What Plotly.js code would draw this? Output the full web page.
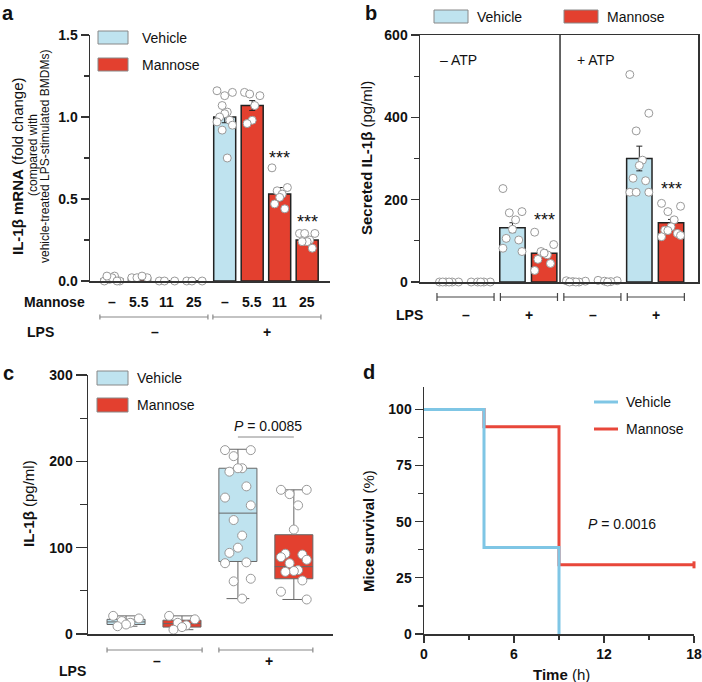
<!DOCTYPE html>
<html>
<head>
<meta charset="utf-8">
<script src="https://cdn.plot.ly/plotly-3.0.1.min.js"></script>
<style>
body { margin: 0; background: #fff; }
#chart { width: 702px; height: 682px; }
</style>
</head>
<body>
<div id="chart"></div>
<script>
// ---- panel a : IL-1b mRNA ----
const aLabels = ['–', '5.5', '11', '25', '–', '5.5', '11', '25'];
const aGroup = ['V', 'M', 'M', 'M', 'V', 'M', 'M', 'M'];
const aMean = [0.01, 0.02, 0, 0, 1.0, 1.07, 0.53, 0.25];
const aErr = [0.005, 0.004, 0, 0, 0.035, 0.03, 0.04, 0.02];
const aDots = [
  [0.0, 0.0, 0.01, 0.03, 0.02, 0.03, 0.0],
  [0.02, 0.02, 0.02, 0.03],
  [0, 0, 0],
  [0, 0, 0],
  [1.16, 1.15, 1.07, 1.03, 1.02, 1.0, 0.98, 0.97, 0.95, 0.92, 0.75, 1.13],
  [1.15, 1.13, 1.14, 1.07, 0.98, 0.96],
  [0.69, 0.57, 0.55, 0.53, 0.51, 0.47, 0.44],
  [0.29, 0.29, 0.29, 0.25, 0.24, 0.24, 0.20]
];
const aStars = [6, 7];
const aStarY = [0.75, 0.36];

// ---- panel b : secreted IL-1b ----
const bLPS = ['–', '+', '–', '+'];
const bGroup = ['V', 'M', 'V', 'M', 'V', 'M', 'V', 'M'];
const bMean = [0, 0, 132, 70, 0, 2, 300, 144];
const bErr = [0, 0, 12, 8, 0, 1, 30, 8];
const bDots = [
  [0, 0, 0, 0, 0, 0],
  [0, 0, 0, 0, 0],
  [227, 171, 168, 151, 128, 106, 102, 82, 74],
  [121, 91, 74, 66, 70, 55, 45, 28],
  [3, 2, 1, 0, 0, 0],
  [4, 3, 2, 1, 0],
  [504, 410, 367, 296, 283, 252, 246, 218, 218, 218],
  [191, 184, 171, 151, 134, 126, 118, 110, 113, 125]
];
const bStars = [3, 7];
const bStarY = [150, 226];

// ---- panel c : IL-1b in serum ----
const cQ1 = [11, 8, 84, 64];
const cMed = [14, 12, 140, 78];
const cQ3 = [17, 16, 192, 115];
const cLo = [9, 5, 41, 40];
const cHi = [21, 21, 214, 167];
const cDots = [
  [21, 18, 15, 13, 11, 9],
  [21, 17, 13, 10, 8, 5],
  [213, 213, 206, 192, 192, 188, 171, 158, 149, 132, 114, 100, 94, 83, 82, 64, 61, 41],
  [167, 167, 162, 149, 121, 93, 92, 89, 86, 82, 74, 73, 72, 62, 49, 40]
];
const cLPS = ['–', '+'];

// ---- panel d : survival ----
const dVehT = [0, 4, 9];
const dVehS = [100, 38.5, 0];
const dManT = [0, 4, 9, 18];
const dManS = [100, 92.3, 30.8, 30.8];

const VEH = '#bfe3ef', MAN = '#e3402f';
const VEHL = '#7fc6e5', MANL = '#e8473a';
const FONT = 'Liberation Sans, Arial, Helvetica, sans-serif';
const W = 702, H = 682;
const px = v => v / W, py = v => 1 - v / H;
const col = g => g === 'V' ? VEH : MAN;

function T(text, x, y, o) {
  return Object.assign({
    text: text, x: px(x), y: py(y), xref: 'paper', yref: 'paper',
    showarrow: false, xanchor: 'center', yanchor: 'middle',
    font: { family: FONT, size: 14, color: '#111' }
  }, o || {});
}
function bold(s) { return { family: FONT, size: s || 14, color: '#111', weight: 700 }; }

// deterministic spread of dots around a category
const pattern = [-1, 1, -0.33, 0.33, 0, -0.66, 0.66];
function dotTrace(groups, pos, w, xa, ya, size) {
  const x = [], y = [];
  groups.forEach((vals, i) => vals.forEach((v, j) => {
    x.push(pos[i] + pattern[j % pattern.length] * w);
    y.push(v);
  }));
  return {
    type: 'scatter', mode: 'markers', x: x, y: y, xaxis: xa, yaxis: ya,
    cliponaxis: false, hoverinfo: 'skip',
    marker: { size: size, color: '#fff', line: { color: '#999', width: 1 } }
  };
}

function bracket(xref, x0, x1, ypx, color, h) {
  const line = { color: color, width: 1.2 };
  return [
    { type: 'line', xref: xref, yref: 'paper', x0: x0, x1: x1, y0: py(ypx), y1: py(ypx), line: line },
    { type: 'line', xref: xref, yref: 'paper', x0: x0, x1: x0, y0: py(ypx - h), y1: py(ypx + h), line: line },
    { type: 'line', xref: xref, yref: 'paper', x0: x1, x1: x1, y0: py(ypx - h), y1: py(ypx + h), line: line }
  ];
}
function legendBox(x0, y0, x1, y1, fill) {
  return { type: 'rect', xref: 'paper', yref: 'paper', x0: px(x0), x1: px(x1), y0: py(y1), y1: py(y0),
    fillcolor: fill, line: { color: '#888', width: 1 } };
}

const aPos = aLabels.map((_, i) => i + (i >= 4 ? 0.1 : 0));
const bPos = bMean.map((_, i) => i);

const traces = [];
traces.push({
  type: 'bar', x: aPos, y: aMean, width: 0.8, xaxis: 'x', yaxis: 'y',
  marker: { color: aGroup.map(col), line: { color: '#222', width: 1.5 } },
  error_y: { type: 'data', array: aErr, color: '#222', thickness: 1, width: 3 }
});
traces.push(dotTrace(aDots, aPos, 0.28, 'x', 'y', 8));

traces.push({
  type: 'bar', x: bPos, y: bMean, width: 0.8, xaxis: 'x2', yaxis: 'y2',
  marker: { color: bGroup.map(col), line: { color: '#222', width: 1.5 } },
  error_y: { type: 'data', array: bErr, color: '#222', thickness: 1, width: 3 }
});
traces.push(dotTrace(bDots, bPos, 0.3, 'x2', 'y2', 8));

[[0, VEH], [1, MAN]].forEach(([k, fill]) => {
  const idx = [k, k + 2];
  traces.push({
    type: 'box', x: idx, xaxis: 'x3', yaxis: 'y3', width: 0.68,
    q1: idx.map(i => cQ1[i]), median: idx.map(i => cMed[i]), q3: idx.map(i => cQ3[i]),
    lowerfence: idx.map(i => cLo[i]), upperfence: idx.map(i => cHi[i]),
    fillcolor: fill, line: { color: '#666', width: 1 }, whiskerwidth: 0.6, boxpoints: false
  });
});
traces.push(dotTrace(cDots, [0, 1, 2, 3], 0.23, 'x3', 'y3', 9));

traces.push({ type: 'scatter', mode: 'lines', x: dManT, y: dManS, xaxis: 'x4', yaxis: 'y4',
  line: { color: MANL, width: 3, shape: 'hv' }, cliponaxis: false });
traces.push({ type: 'scatter', mode: 'markers', x: dManT.slice(-1), y: dManS.slice(-1), xaxis: 'x4', yaxis: 'y4',
  marker: { symbol: 'line-ns', size: 5, line: { color: MANL, width: 3 } }, cliponaxis: false });
traces.push({ type: 'scatter', mode: 'lines', x: dVehT, y: dVehS, xaxis: 'x4', yaxis: 'y4',
  line: { color: VEHL, width: 3, shape: 'hv' }, cliponaxis: false });

const axLine = { showline: true, linecolor: '#333', linewidth: 1.5, showgrid: false, zeroline: false };
const yTicks = { ticks: 'outside', ticklen: 8, tickwidth: 1.2, tickcolor: '#333', tickfont: bold(14) };

const layout = {
  width: W, height: H, margin: { l: 0, r: 0, t: 0, b: 0 },
  paper_bgcolor: '#fff', plot_bgcolor: 'rgba(0,0,0,0)', showlegend: false,
  font: { family: FONT, color: '#111' },
  xaxis: Object.assign({}, axLine, { domain: [px(90), px(330)], range: [-0.8, 7.93], anchor: 'y', showticklabels: false, ticks: '' }),
  yaxis: Object.assign({}, axLine, yTicks, { domain: [py(281), py(35)], range: [0, 1.5], anchor: 'x',
    tick0: 0, dtick: 0.5, tickformat: '.1f',
    minor: { dtick: 0.25, ticks: 'outside', ticklen: 5, tickcolor: '#333', tickwidth: 1.2 } }),
  xaxis2: Object.assign({}, axLine, { domain: [px(420), px(698)], range: [-0.915, 7.85], anchor: 'y2', mirror: true, showticklabels: false, ticks: '' }),
  yaxis2: Object.assign({}, axLine, yTicks, { domain: [py(282), py(35)], range: [0, 600], anchor: 'x2', mirror: true,
    tick0: 0, dtick: 200,
    minor: { dtick: 100, ticks: 'outside', ticklen: 5, tickcolor: '#333', tickwidth: 1.2 } }),
  xaxis3: Object.assign({}, axLine, { domain: [px(88), px(333)], range: [-0.68, 3.7], anchor: 'y3', showticklabels: false, ticks: '' }),
  yaxis3: Object.assign({}, axLine, yTicks, { domain: [py(634), py(375)], range: [0, 300], anchor: 'x3',
    tick0: 0, dtick: 100, ticklen: 11,
    minor: { dtick: 50, ticks: 'outside', ticklen: 7, tickcolor: '#333', tickwidth: 1.2 } }),
  xaxis4: Object.assign({}, axLine, yTicks, { domain: [px(424), px(694)], range: [0, 18], anchor: 'y4',
    tick0: 0, dtick: 6, ticklen: 7,
    minor: { dtick: 3, ticks: 'outside', ticklen: 4, tickcolor: '#333', tickwidth: 1.2 } }),
  yaxis4: Object.assign({}, axLine, yTicks, { domain: [py(634), py(387)], range: [0, 110], anchor: 'x4',
    tickvals: [0, 25, 50, 75, 100],
    minor: { tickvals: [12.5, 37.5, 62.5, 87.5], ticks: 'outside', ticklen: 5, tickcolor: '#333', tickwidth: 1.2 } }),
  shapes: [],
  annotations: []
};

const S = layout.shapes, A = layout.annotations;

// panel letters
A.push(T('<b>a</b>', 8, 0, { yanchor: 'top', font: bold(20) }));
A.push(T('<b>b</b>', 371, 0, { yanchor: 'top', font: bold(20) }));
A.push(T('<b>c</b>', 8, 360, { yanchor: 'top', font: bold(20) }));
A.push(T('<b>d</b>', 369, 359, { yanchor: 'top', font: bold(20) }));

// panel a extras
A.push(T('<b>IL-1β mRNA</b> (fold change)', 17, 166, { textangle: -90, font: { family: FONT, size: 15, color: '#111' } }));
A.push(T('(compared with', 33, 155, { textangle: -90, font: { family: FONT, size: 12, color: '#111' } }));
A.push(T('vehicle-treated LPS-stimulated BMDMs)', 45, 156, { textangle: -90, font: { family: FONT, size: 12, color: '#111' } }));
aLabels.forEach((t, i) => A.push({ text: t, x: aPos[i], y: py(302), xref: 'x', yref: 'paper', showarrow: false, font: bold(14) }));
A.push(T('Mannose', 87, 302, { xanchor: 'right', font: bold(14) }));
A.push(T('LPS', 40, 332, { font: bold(14) }));
A.push({ text: '–', x: 1.56, y: py(332), xref: 'x', yref: 'paper', showarrow: false, font: bold(14) });
A.push({ text: '+', x: 5.64, y: py(332), xref: 'x', yref: 'paper', showarrow: false, font: bold(14) });
S.push(...bracket('x', -0.44, 3.49, 317, '#888', 2.5), ...bracket('x', 3.67, 7.6, 317, '#888', 2.5));
aStars.forEach((k, i) => A.push({ text: '***', x: aPos[k], y: aStarY[i], xref: 'x', yref: 'y', showarrow: false, font: { family: FONT, size: 18, color: '#111' } }));
S.push(legendBox(98, 31, 128, 44, VEH), legendBox(98, 58, 128, 71, MAN));
A.push(T('Vehicle', 140, 38, { xanchor: 'left' }));
A.push(T('Mannose', 140, 65, { xanchor: 'left' }));

// panel b extras
A.push(T('<b>Secreted IL-1β</b> (pg/ml)', 366, 158, { textangle: -90, font: { family: FONT, size: 15, color: '#111' } }));
S.push({ type: 'line', xref: 'x2', yref: 'y2 domain', x0: 3.5, x1: 3.5, y0: 0, y1: 1, line: { color: '#333', width: 1.5 } });
A.push(T('– ATP', 458, 60));
A.push(T('+ ATP', 595, 60));
bStars.forEach((k, i) => A.push({ text: '***', x: bPos[k], y: bStarY[i], xref: 'x2', yref: 'y2', showarrow: false, font: { family: FONT, size: 18, color: '#111' } }));
[0, 2, 4, 6].forEach(k => S.push(...bracket('x2', k - 0.38, k + 1.42, 297, '#444', 4)));
bLPS.forEach((t, i) => A.push({ text: t, x: i * 2 + 0.53, y: py(315), xref: 'x2', yref: 'paper', showarrow: false, font: bold(14) }));
A.push(T('LPS', 409, 315, { font: bold(14) }));
S.push(legendBox(434, 10, 468, 23, VEH), legendBox(564, 10, 598, 23, MAN));
A.push(T('Vehicle', 475, 17, { xanchor: 'left' }));
A.push(T('Mannose', 605, 17, { xanchor: 'left' }));

// panel c extras
A.push(T('<b>IL-1β</b> (pg/ml)', 28, 504, { textangle: -90, font: { family: FONT, size: 15, color: '#111' } }));
S.push(legendBox(97, 371, 128, 385, VEH), legendBox(97, 398, 128, 412, MAN));
A.push(T('Vehicle', 135, 378, { xanchor: 'left' }));
A.push(T('Mannose', 135, 405, { xanchor: 'left' }));
A.push(T('<i>P</i> = 0.0085', 268, 426));
S.push({ type: 'line', xref: 'x3', yref: 'paper', x0: 2.0, x1: 3.0, y0: py(437), y1: py(437), line: { color: '#888', width: 1 } });
S.push(...bracket('x3', -0.34, 1.36, 650, '#888', 2.5), ...bracket('x3', 1.66, 3.34, 650, '#888', 2.5));
cLPS.forEach((t, i) => A.push({ text: t, x: i * 2 + 0.55, y: py(671), xref: 'x3', yref: 'paper', showarrow: false, font: bold(14) }));
A.push(T('LPS', 72, 671, { font: bold(14) }));

// panel d extras
A.push(T('<b>Mice survival</b> (%)', 368, 531, { textangle: -90, font: { family: FONT, size: 15, color: '#111' } }));
A.push(T('<b>Time</b> (h)', 561, 674, { font: { family: FONT, size: 15, color: '#111' } }));
S.push({ type: 'line', xref: 'paper', yref: 'paper', x0: px(594), x1: px(618), y0: py(402), y1: py(402), line: { color: VEHL, width: 3 } });
S.push({ type: 'line', xref: 'paper', yref: 'paper', x0: px(594), x1: px(618), y0: py(429), y1: py(429), line: { color: MANL, width: 3 } });
A.push(T('Vehicle', 624, 402, { xanchor: 'left' }));
A.push(T('Mannose', 624, 429, { xanchor: 'left' }));
A.push(T('<i>P</i> = 0.0016', 622, 524));

Plotly.newPlot('chart', traces, layout, { staticPlot: true });
</script>
</body>
</html>
